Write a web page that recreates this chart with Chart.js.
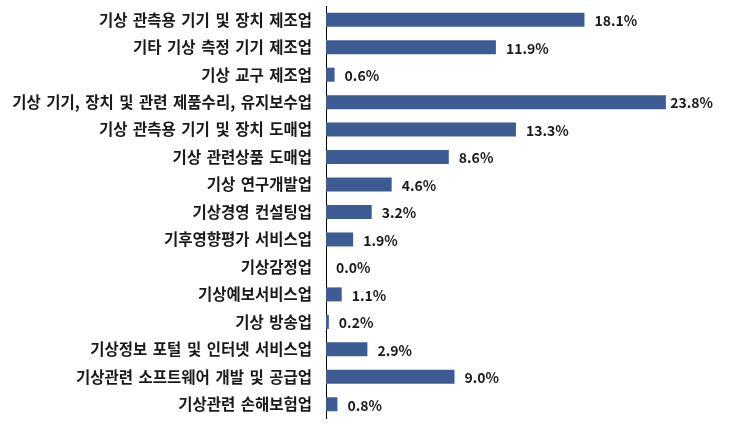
<!DOCTYPE html>
<html>
<head>
<meta charset="utf-8">
<script src="https://cdn.jsdelivr.net/npm/chart.js@4/dist/chart.umd.min.js"></script>
<style>
    html, body { margin: 0; padding: 0; background: #fff; }
    #wrap { width: 731px; height: 424px; }
</style>
</head>
<body>
<div id="wrap"><canvas id="barChart" width="731" height="424"></canvas></div>
<script>
const categories = [
    '기상 관측용 기기 및 장치 제조업',
    '기타 기상 측정 기기 제조업',
    '기상 교구 제조업',
    '기상 기기, 장치 및 관련 제품수리, 유지보수업',
    '기상 관측용 기기 및 장치 도매업',
    '기상 관련상품 도매업',
    '기상 연구개발업',
    '기상경영 컨설팅업',
    '기후영향평가 서비스업',
    '기상감정업',
    '기상예보서비스업',
    '기상 방송업',
    '기상정보 포털 및 인터넷 서비스업',
    '기상관련 소프트웨어 개발 및 공급업',
    '기상관련 손해보험업'
];
const shares = [18.1, 11.9, 0.6, 23.8, 13.3, 8.6, 4.6, 3.2, 1.9, 0.0, 1.1, 0.2, 2.9, 9.0, 0.8];

const FONT = '"Noto Sans CJK KR", "Noto Sans", sans-serif';

// wider gaps between words, like the original
const wordGap = {
    id: 'wordGap',
    beforeDraw(chart) {
        chart.ctx.wordSpacing = '2px';
    }
};

// draw the % value just right of each bar end, kept inside the canvas edge
const valueLabels = {
    id: 'valueLabels',
    afterDatasetsDraw(chart) {
        const ctx = chart.ctx;
        const meta = chart.getDatasetMeta(0);
        ctx.save();
        ctx.wordSpacing = '0px';
        ctx.font = '600 14px ' + FONT;
        ctx.fillStyle = '#1a1a1a';
        ctx.textAlign = 'left';
        ctx.textBaseline = 'middle';
        meta.data.forEach((bar, i) => {
            const txt = shares[i].toFixed(1) + '%';
            const w = ctx.measureText(txt).width;
            const x = Math.min(bar.x + 10, 713 - w);
            ctx.fillText(txt, x, bar.y + 1);
        });
        ctx.restore();
    }
};

const ctx = document.getElementById('barChart').getContext('2d');

new Chart(ctx, {
    type: 'bar',
    data: {
        labels: categories,
        datasets: [{
            data: shares,
            backgroundColor: '#3e5c94',
            barPercentage: 0.51,
            categoryPercentage: 1.0
        }]
    },
    options: {
        indexAxis: 'y',
        responsive: false,
        animation: false,
        layout: { padding: { top: 6, bottom: 6, left: 0, right: 48 } },
        plugins: {
            legend: { display: false },
            tooltip: { enabled: false }
        },
        scales: {
            x: {
                display: false,
                min: 0,
                max: 25
            },
            y: {
                afterFit(scale) {
                    scale.width = 326;
                    scale.paddingTop = 0;
                    scale.paddingBottom = 0;
                },
                grid: { display: false, drawTicks: false },
                border: { display: true, color: '#000', width: 1 },
                ticks: {
                    padding: 14,
                    color: '#1a1a1a',
                    font: { family: FONT, size: 15.5, weight: 'bold' }
                }
            }
        }
    },
    plugins: [wordGap, valueLabels]
});
</script>
</body>
</html>
